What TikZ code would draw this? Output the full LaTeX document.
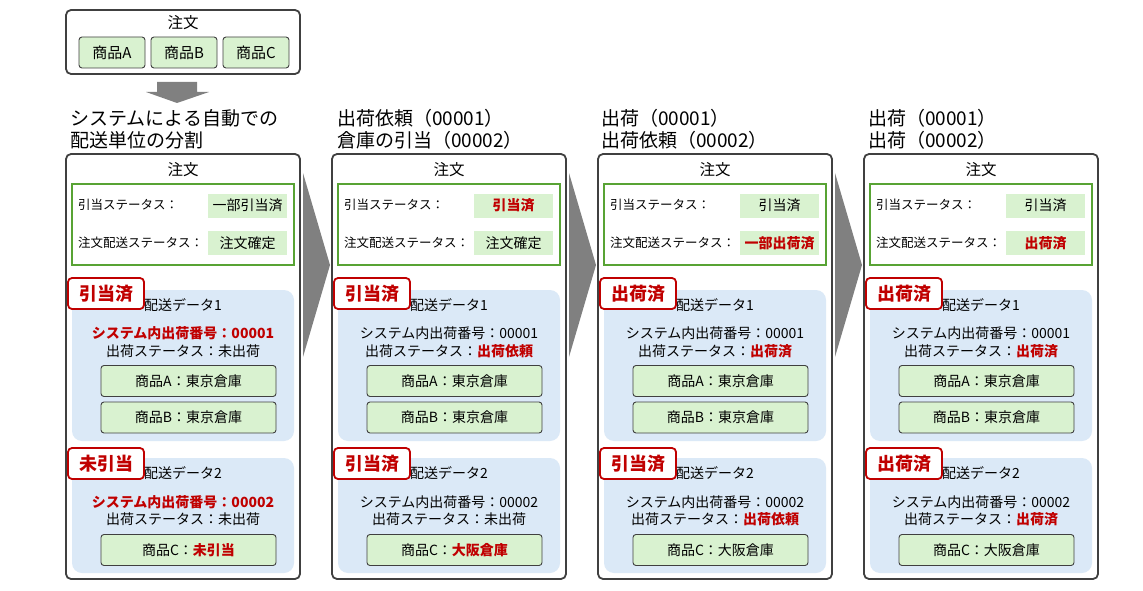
\documentclass[tikz,border=0pt]{standalone}
\usepackage{fontspec}
\setmainfont{Noto Sans CJK JP}
\definecolor{dgray}{RGB}{64,64,64}
\definecolor{grn}{RGB}{88,163,52}
\definecolor{lgreen}{RGB}{217,242,208}
\definecolor{lblue}{RGB}{219,233,247}
\definecolor{myred}{RGB}{192,0,0}
\definecolor{agray}{RGB}{128,128,128}
\newcommand\fs[1]{\fontsize{#1}{#1}\selectfont}
\newcommand\rb[1]{\textcolor{myred}{\bfseries #1}}
\tikzset{
  outer/.style={draw=dgray, line width=1.8, rounded corners=5, fill=white, inner sep=0},
  grnbox/.style={draw=grn, line width=2, inner sep=0},
  valbox/.style={fill=lgreen, minimum width=79, minimum height=24, inner sep=0, font=\fs{14}},
  blubox/.style={fill=lblue, rounded corners=10, inner sep=0},
  badge/.style={draw=myred, line width=1.8, rounded corners=4, fill=white, minimum width=76, minimum height=31, inner sep=0, text=myred, font=\bfseries\fs{18}},
  item/.style={draw=dgray, line width=0.9, fill=lgreen, rounded corners=3, minimum width=175, minimum height=31, inner sep=0, font=\fs{14}},
  lbl/.style={font=\fs{12.5}, anchor=west, inner sep=0},
  txt/.style={font=\fs{14}, inner sep=0},
  head/.style={font=\fontsize{19}{22}\selectfont, align=left, anchor=west, inner sep=0},
  chev/.style={fill=agray},
}
% per-column content is set with \def before each call
\newcommand\ordcol[2]{%
  \node[outer, minimum width=234, minimum height=425] (#2-box) at (#1+183,366.5) {};
  \node[txt, font=\fs{15.5}] (#2-title) at (#1+183,170) {注文};
  \node[grnbox, minimum width=222, minimum height=81] (#2-stat) at (#1+183,224.5) {};
  \node[lbl] (#2-l1) at (#1+78,205) {引当ステータス：};
  \node[valbox] (#2-v1) at (#1+247.5,205.5) {\vA};
  \node[lbl] (#2-l2) at (#1+78,243) {注文配送ステータス：};
  \node[valbox] (#2-v2) at (#1+247.5,243) {\vB};
  \node[blubox, minimum width=222, minimum height=151] (#2-d1) at (#1+183,365.5) {};
  \node[badge] (#2-b1) at (#1+106,293.5) {\bA};
  \node[txt] (#2-h1) at (#1+183,305) {配送データ1};
  \node[txt] (#2-n1) at (#1+183,333) {\nA};
  \node[txt] (#2-s1) at (#1+183,351) {出荷ステータス：\sA};
  \node[item] (#2-ia) at (#1+188.5,381) {商品A：東京倉庫};
  \node[item] (#2-ib) at (#1+188.5,417.5) {商品B：東京倉庫};
  \node[blubox, minimum width=222, minimum height=115] (#2-d2) at (#1+183,515.5) {};
  \node[badge] (#2-b2) at (#1+106,463.5) {\bB};
  \node[txt] (#2-h2) at (#1+183,473) {配送データ2};
  \node[txt] (#2-n2) at (#1+183,502) {\nB};
  \node[txt] (#2-s2) at (#1+183,519) {出荷ステータス：\sB};
  \node[item] (#2-ic) at (#1+188.5,550) {商品C：\cC};
}
\begin{document}
\begin{tikzpicture}[x=1pt,y=-1pt]
\useasboundingbox (0,0) rectangle (1143,591);
% top order
\node[outer, minimum width=234, minimum height=64] (order) at (183,42) {};
\node[txt, font=\fs{15.5}] (order-title) at (183,23) {注文};
\node[item, minimum width=66, minimum height=31, font=\fs{15}] (pa) at (112,52.5) {商品A};
\node[item, minimum width=66, minimum height=31, font=\fs{15}] (pb) at (184,52.5) {商品B};
\node[item, minimum width=66, minimum height=31, font=\fs{15}] (pc) at (256,52.5) {商品C};
% down arrow
\fill[agray] (157,82) -- (197,82) -- (197,92) -- (209,92) -- (177,103) -- (146,92) -- (157,92) -- cycle;
% headers
\node[head] (hd1) at (70,129) {システムによる自動での\\配送単位の分割};
\node[head] (hd2) at (337,129) {出荷依頼（00001）\\倉庫の引当（00002）};
\node[head] (hd3) at (601,129) {出荷（00001）\\出荷依頼（00002）};
\node[head] (hd4) at (868,129) {出荷（00001）\\出荷（00002）};
% column 1
\def\vA{一部引当済}\def\vB{注文確定}\def\bA{引当済}\def\nA{\rb{システム内出荷番号：00001}}\def\sA{未出荷}
\def\bB{未引当}\def\nB{\rb{システム内出荷番号：00002}}\def\sB{未出荷}\def\cC{\rb{未引当}}
\ordcol{0}{a}
% column 2
\def\vA{\rb{引当済}}\def\vB{注文確定}\def\bA{引当済}\def\nA{システム内出荷番号：00001}\def\sA{\rb{出荷依頼}}
\def\bB{引当済}\def\nB{システム内出荷番号：00002}\def\sB{未出荷}\def\cC{\rb{大阪倉庫}}
\ordcol{266}{b}
% column 3
\def\vA{引当済}\def\vB{\rb{一部出荷済}}\def\bA{出荷済}\def\nA{システム内出荷番号：00001}\def\sA{\rb{出荷済}}
\def\bB{引当済}\def\nB{システム内出荷番号：00002}\def\sB{\rb{出荷依頼}}\def\cC{大阪倉庫}
\ordcol{532}{c}
% column 4
\def\vA{引当済}\def\vB{\rb{出荷済}}\def\bA{出荷済}\def\nA{システム内出荷番号：00001}\def\sA{\rb{出荷済}}
\def\bB{出荷済}\def\nB{システム内出荷番号：00002}\def\sB{\rb{出荷済}}\def\cC{大阪倉庫}
\ordcol{798}{d}
% chevrons between columns
\fill[chev] (303,173) -- (330,265) -- (303,357) -- cycle;
\fill[chev] (569,173) -- (596,265) -- (569,357) -- cycle;
\fill[chev] (835,173) -- (862,265) -- (835,357) -- cycle;
\end{tikzpicture}
\end{document}
